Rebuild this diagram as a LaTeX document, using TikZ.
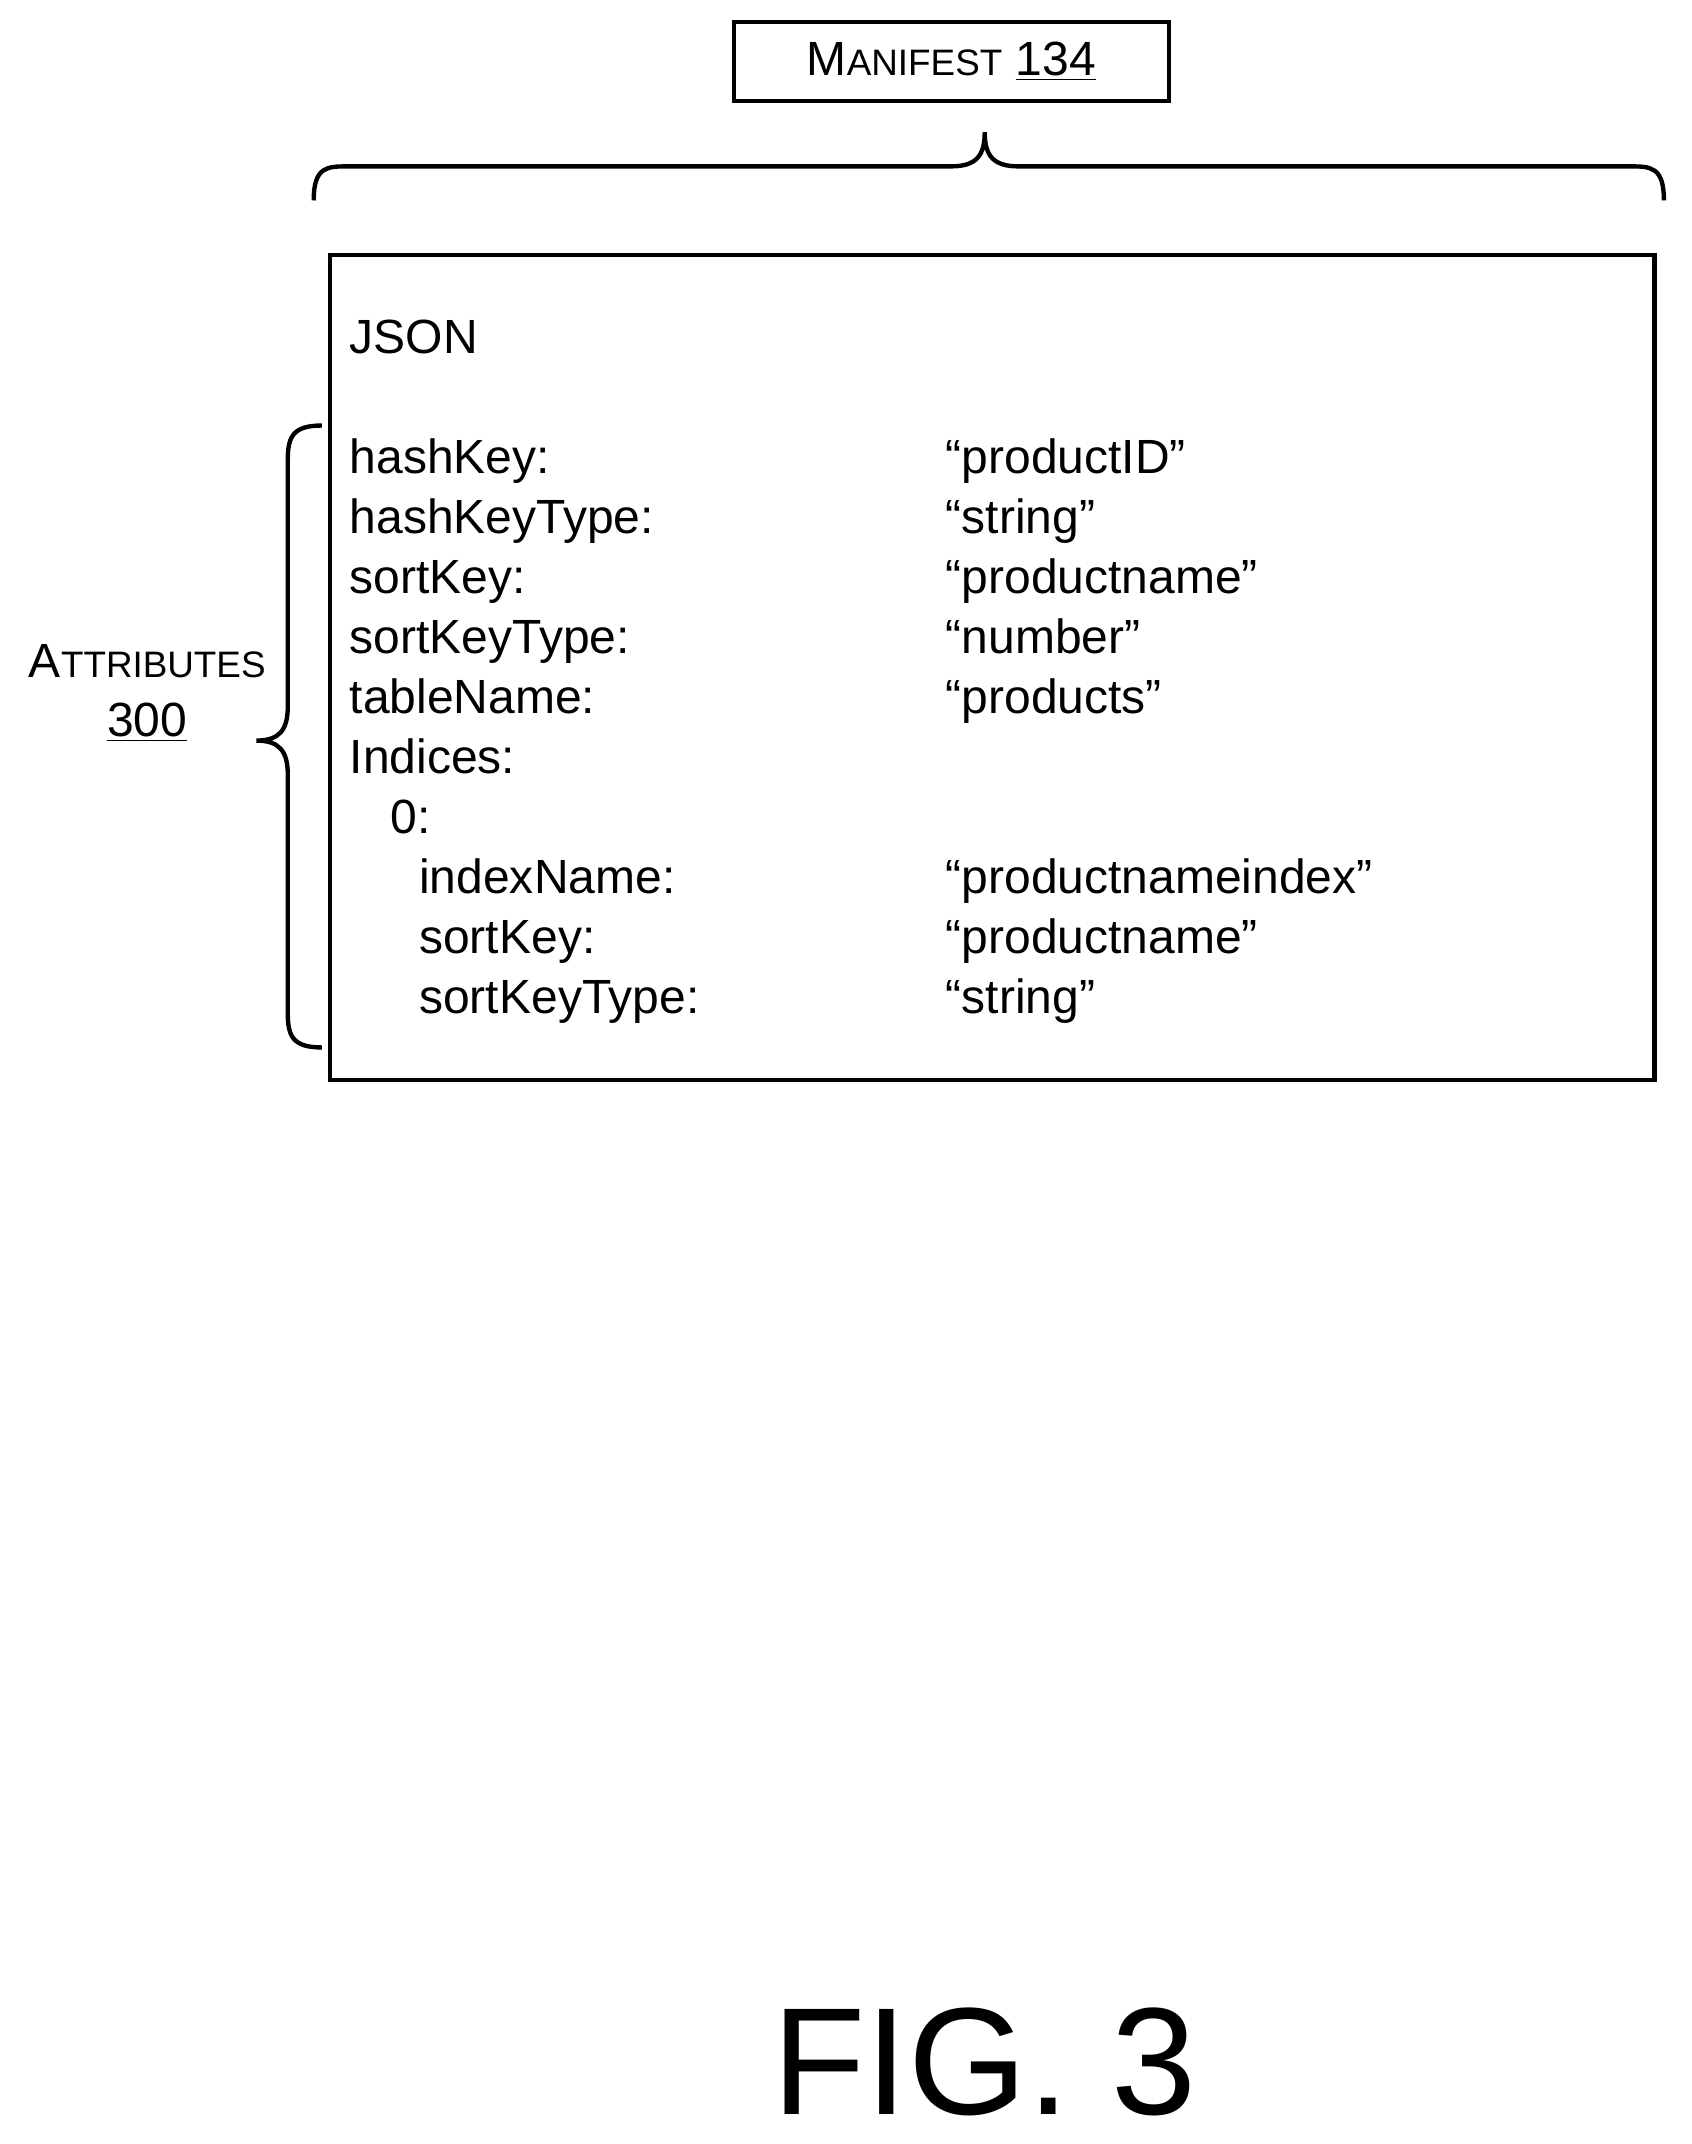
\documentclass[tikz,border=0pt]{standalone}
\usepackage{fontspec}
\setmainfont{Liberation Sans}
\begin{document}
\begin{tikzpicture}[x=0.5pt,y=-0.5pt,
  box/.style={draw,line width=1.6pt},
  brace/.style={draw,line width=1.6pt},
  txt/.style={anchor=base west,inner sep=0pt,font=\fontsize{17.6}{20}\selectfont}]
\useasboundingbox (0,0) rectangle (1240,1572);
\node[box,minimum width=319*0.5pt,minimum height=58*0.5pt,inner sep=0pt] (man) at (697.5,45) {\fontsize{17.6}{20}\selectfont M{\fontsize{13.5}{15}\selectfont ANIFEST} \underline{134}};
\draw[brace] (230,147) .. controls (230,122) and (240,122) .. (255,122) -- (697,122) .. controls (715,122) and (722,115) .. (722,97)
  .. controls (722,115) and (729,122) .. (747,122) -- (1195,122) .. controls (1210,122) and (1220,122) .. (1220,147);
\node[box,minimum width=971*0.5pt,minimum height=605*0.5pt,inner sep=0pt] (main) at (727.5,489.5) {};
\node[txt] (json) at (256,259) {JSON};
\foreach \k/\v/\x/\y [count=\i] in {hashKey:/“productID”/256/347, hashKeyType:/“string”/256/391, sortKey:/“productname”/256/435, sortKeyType:/“number”/256/479, tableName:/“products”/256/523, Indices://256/567, 0://286/611, indexName:/“productnameindex”/307/655, sortKey:/“productname”/307/699, sortKeyType:/“string”/307/743}{
  \node[txt] (k\i) at (\x,\y) {\strut\k};
  \node[txt] (v\i) at (693,\y) {\strut\v};
}
\draw[brace] (236,312) .. controls (215,312) and (211,320) .. (211,337) -- (211,518) .. controls (211,535) and (205,543) .. (188,543)
  .. controls (205,543) and (211,551) .. (211,568) -- (211,743) .. controls (211,760) and (215,768) .. (236,768);
\node[txt,anchor=base] (attr1) at (108,497) {A{\fontsize{13.5}{15}\selectfont TTRIBUTES}};
\node[txt,anchor=base] (attr2) at (108,540) {\underline{300}};
\node[inner sep=0pt,anchor=base,font=\fontsize{56}{60}\selectfont] (fig) at (722,1550) {FIG. 3};
\end{tikzpicture}
\end{document}
